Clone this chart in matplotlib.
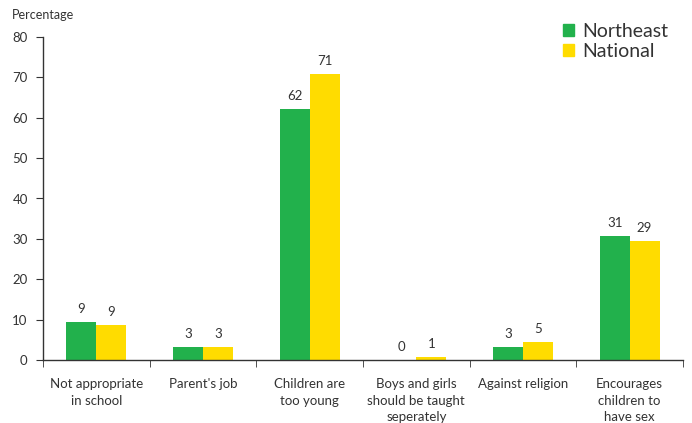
import matplotlib
matplotlib.use("Agg")
from matplotlib import pyplot as plt
from matplotlib.patches import Patch
import numpy as np

plt.rcParams['font.family'] = ['Lato', 'DejaVu Sans']

categories = ["Not appropriate\nin school", "Parent's job", "Children are\ntoo young",
              "Boys and girls\nshould be taught\nseperately", "Against religion",
              "Encourages\nchildren to\nhave sex"]
northeast = [9.4, 3.2, 62.1, 0.0, 3.2, 30.7]
national = [8.7, 3.2, 70.8, 0.7, 4.5, 29.5]
northeast_labels = ["9", "3", "62", "0", "3", "31"]
national_labels = ["9", "3", "71", "1", "5", "29"]

green = "#22B14C"
yellow = "#FFDC00"
txt = "#333333"

fig = plt.figure(figsize=(6.92, 4.23), dpi=100)
ax = fig.add_axes([43 / 692, 1 - 360 / 423, 640 / 692, 323 / 423])

x = np.arange(len(categories))
w = 0.28
ax.bar(x - w / 2, northeast, w, color=green, linewidth=0)
ax.bar(x + w / 2, national, w, color=yellow, linewidth=0)

for i in range(len(categories)):
    ax.text(x[i] - w / 2, northeast[i] + 1.8, northeast_labels[i], ha="center", va="bottom",
            fontsize=9.5, color=txt)
    ax.text(x[i] + w / 2, national[i] + 1.8, national_labels[i], ha="center", va="bottom",
            fontsize=9.5, color=txt)

ax.set_xlim(-0.5, len(categories) - 0.5)
ax.set_ylim(0, 80)
ax.set_yticks(range(0, 81, 10))
ax.tick_params(axis="y", direction="out", length=5, labelsize=9.5, colors=txt, pad=6)

ax.set_xticks(x)
ax.set_xticklabels(categories, fontsize=9.5, color=txt, va="top", linespacing=1.45)
ax.set_xticks(np.arange(-0.5, len(categories)), minor=True)
ax.tick_params(axis="x", which="major", length=0, pad=13)
ax.tick_params(axis="x", which="minor", direction="out", length=5, color=txt)

for s in ["top", "right"]:
    ax.spines[s].set_visible(False)
for s in ["left", "bottom"]:
    ax.spines[s].set_color(txt)
    ax.spines[s].set_linewidth(1.0)

fig.text(12 / 692, 1 - 15 / 423, "Percentage", fontsize=9, color=txt, va="center")

handles = [Patch(color=green, label="Northeast"), Patch(color=yellow, label="National")]
fig.legend(handles=handles, loc="upper left", bbox_to_anchor=(563 / 692, 1 - 23 / 423),
           frameon=False, fontsize=14, handlelength=0.55, handleheight=0.55,
           handletextpad=0.45, labelspacing=0.15, labelcolor=txt, borderaxespad=0,
           borderpad=0)

plt.savefig("out.png", dpi=100)
